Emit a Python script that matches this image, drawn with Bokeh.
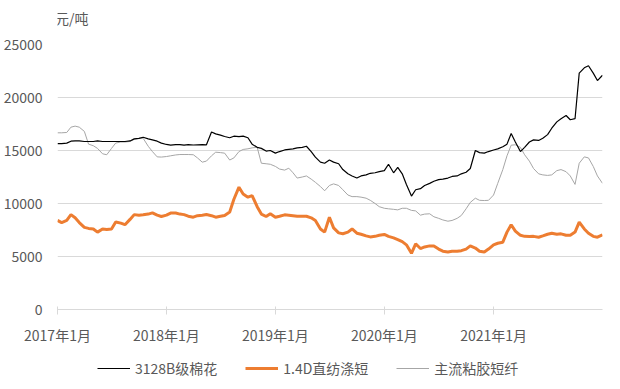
import pandas as pd
from bokeh.plotting import figure
from bokeh.layouts import column
from bokeh.models import FixedTicker, Legend, LegendItem, Range1d, Label
from bokeh.embed import file_html
from bokeh.resources import INLINE

# semi-monthly observation dates, 2017-01 .. 2022-01
dates = pd.date_range("2017-01-01", "2022-01-01", freq="SMS")

cotton = [
    15650, 15650, 15700, 15880, 15900, 15900, 15850, 15850, 15850, 15900,
    15850, 15850, 15850, 15850, 15850, 15850, 15900, 16100, 16150, 16250,
    16100, 16000, 15880, 15700, 15570, 15500, 15550, 15560, 15500, 15560,
    15520, 15540, 15550, 15540, 16750, 16570, 16450, 16320, 16200, 16350,
    16300, 16350, 16200, 15600, 15300, 15200, 14950, 15000, 14750, 14900,
    15050, 15100, 15150, 15250, 15300, 15400, 14900, 14370, 13900, 13800,
    14100, 13900, 13750, 13200, 12800, 12600, 12400, 12600, 12700, 12850,
    12900, 13000, 13100, 13700, 12900, 13400, 12800, 11800, 10700, 11300,
    11400, 11700, 11900, 12100, 12250, 12300, 12400, 12550, 12600, 12800,
    12950, 13300, 15000, 14800, 14750, 14900, 15050, 15150, 15350, 15600,
    16600, 15800, 14900, 15300, 15800, 16000, 15950, 16150, 16500, 17100,
    17700, 18000, 18300, 17900, 18000, 22300, 22800, 23000, 22300, 21600,
    22100,
]

polyester = [
    8400, 8200, 8400, 8950, 8650, 8200, 7750, 7650, 7600, 7300,
    7600, 7550, 7600, 8250, 8150, 8000, 8500, 8950, 8900, 8930,
    9000, 9120, 8900, 8770, 8900, 9100, 9100, 9000, 8950, 8800,
    8710, 8850, 8900, 8960, 8850, 8710, 8800, 8870, 9200, 10400,
    11540, 10900, 10600, 10750, 9700, 9000, 8770, 9030, 8700, 8800,
    8930, 8900, 8850, 8800, 8800, 8800, 8650, 8400, 7600, 7300,
    8700, 7700, 7230, 7150, 7300, 7600, 7200, 7100, 6950, 6850,
    6900, 7000, 7080, 6900, 6760, 6600, 6400, 6100, 5300, 6200,
    5750, 5900, 6000, 6000, 5700, 5500, 5420, 5500, 5500, 5550,
    5700, 6000, 5800, 5500, 5420, 5700, 6100, 6250, 6350, 7300,
    8000, 7400, 7000, 6900, 6890, 6900, 6820, 6950, 7100, 7200,
    7100, 7140, 7000, 7000, 7300, 8240, 7600, 7200, 6900, 6820,
    7050,
]

viscose = [
    16670, 16670, 16700, 17200, 17300, 17200, 16800, 15600, 15450, 15200,
    14690, 14600, 15200, 15700, 15800, 15800, 15850, 16050, 16150, 16150,
    15400, 14900, 14400, 14380, 14430, 14500, 14580, 14620, 14620, 14620,
    14600, 14300, 13900, 14000, 14500, 14840, 14800, 14750, 14100, 14300,
    14900, 15100, 15160, 15250, 15300, 13800, 13750, 13700, 13500, 13250,
    13150, 13330, 12900, 12400, 12500, 12600, 12300, 12000, 11600, 11200,
    11700, 11850, 11700, 11300, 10800, 10650, 10650, 10600, 10500, 10300,
    10000, 9700, 9550, 9500, 9450, 9400, 9550, 9550, 9350, 9300,
    8900, 9000, 9030, 8750, 8600, 8450, 8330, 8400, 8600, 8870,
    9500, 10100, 10500, 10300, 10280, 10300, 10800, 11900, 13200, 14500,
    15500, 15540, 15300, 14600, 14000, 13300, 12800, 12700, 12650, 12700,
    13100, 13200, 13000, 12600, 11800, 13800, 14400, 14300, 13500, 12600,
    11900,
]

series_names = ["3128B级棉花", "1.4D直纺涤短", "主流粘胶短纤"]
unit_label = "元/吨"
y_ticks = [0, 5000, 10000, 15000, 20000, 25000]
x_tick_dates = ["2017-01-01", "2018-01-01", "2019-01-01", "2020-01-01", "2021-01-01"]
x_tick_labels = ["2017年1月", "2018年1月", "2019年1月", "2020年1月", "2021年1月"]

FONT = "Noto Sans CJK SC"
TXT = "#595959"
COLORS = ["#000000", "#ED7D31", "#A6A6A6"]
WIDTHS = [1.2, 3, 1]


def strip(h):
    f = figure(width=604, height=h, output_backend="svg", toolbar_location=None,
               x_range=Range1d(0, 1), y_range=Range1d(0, 1), min_border=0)
    f.axis.visible = False
    f.grid.visible = False
    f.outline_line_color = None
    return f


# unit label strip above the chart
top = strip(30)
top.add_layout(Label(x=31, y=13, x_units="screen", y_units="screen",
                     text=unit_label, text_font=FONT, text_font_size="14px",
                     text_color=TXT, text_baseline="middle", text_align="right"))

p = figure(frame_width=545, frame_height=265, x_axis_type="datetime",
           x_range=Range1d(pd.Timestamp("2017-01-01"), pd.Timestamp("2022-01-01")),
           y_range=Range1d(0, 25000),
           output_backend="svg", toolbar_location=None,
           min_border_left=54, min_border_right=5, min_border_top=14,
           min_border_bottom=0)

p.line(dates, viscose, line_color=COLORS[2], line_width=WIDTHS[2])
p.line(dates, polyester, line_color=COLORS[1], line_width=WIDTHS[1])
p.line(dates, cotton, line_color=COLORS[0], line_width=WIDTHS[0])

p.outline_line_color = None
p.xgrid.grid_line_color = None
p.ygrid.grid_line_color = "#D9D9D9"
p.ygrid.grid_line_width = 1

p.yaxis.ticker = FixedTicker(ticks=y_ticks)
p.yaxis.axis_line_color = None
p.yaxis.major_tick_line_color = None
p.yaxis.minor_tick_line_color = None
p.yaxis.major_label_text_font = FONT
p.yaxis.major_label_text_font_size = "14px"
p.yaxis.major_label_text_color = TXT
p.yaxis.major_label_standoff = 9

x_ms = [pd.Timestamp(d).value // 10**6 for d in x_tick_dates]
p.xaxis.ticker = FixedTicker(ticks=x_ms)
p.xaxis.major_label_overrides = {m: lab for m, lab in zip(x_ms, x_tick_labels)}
p.xaxis.axis_line_color = "#D9D9D9"
p.xaxis.major_tick_line_color = "#D9D9D9"
p.xaxis.major_tick_in = 3
p.xaxis.major_tick_out = 5
p.xaxis.minor_tick_line_color = None
p.xaxis.major_label_text_font = FONT
p.xaxis.major_label_text_font_size = "14px"
p.xaxis.major_label_text_color = TXT
p.xaxis.major_label_standoff = 10

# legend strip below the chart (sample lines live outside the strip's view)
lg = strip(36)
items = []
for name, c, w in zip(series_names, COLORS, WIDTHS):
    r = lg.line([5, 6], [5, 6], line_color=c, line_width=w)
    items.append(LegendItem(label=name, renderers=[r]))
legend = Legend(items=items, orientation="horizontal", location=(40, 5),
                border_line_color=None, background_fill_alpha=0,
                label_text_font=FONT, label_text_font_size="14px",
                label_text_color=TXT, glyph_width=33, spacing=28,
                label_standoff=5, padding=4, margin=0)
lg.add_layout(legend, "center")

layout = column(top, p, lg, spacing=0)
open("out.html", "w").write(file_html(layout, INLINE))
